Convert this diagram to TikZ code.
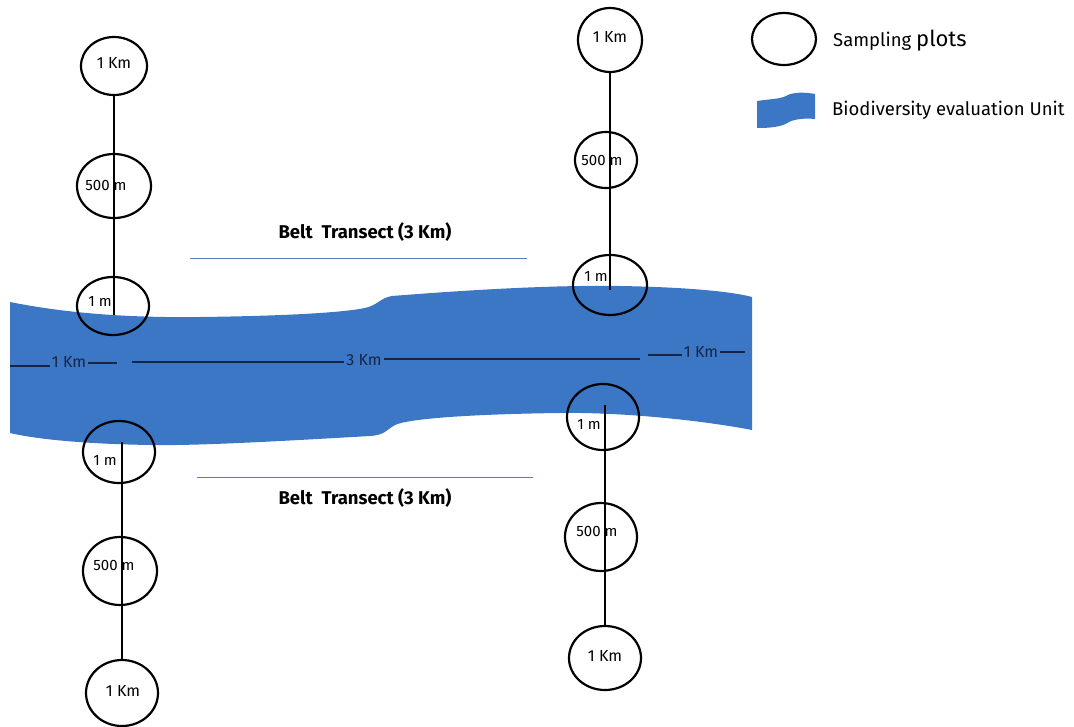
\documentclass[tikz,border=0pt]{standalone}
\usepackage{fontspec}
\setmainfont{Fira Sans}
\usetikzlibrary{shapes.geometric}
\definecolor{beu}{RGB}{59,119,196}
\definecolor{navy}{RGB}{22,36,72}
\definecolor{beltline}{RGB}{95,122,190}
\tikzset{
  plot/.style={ellipse, draw, line width=2.2pt, inner sep=0pt},
  kmplot/.style={plot, fill=white},
  lbl/.style={inner sep=0pt, font=\fontsize{15}{17}\selectfont},
  kmlbl/.style={lbl, font=\fontsize{16}{18}\selectfont\mdseries},
  midlbl/.style={inner sep=2pt, text=navy, font=\fontsize{16}{18}\selectfont},
  midline/.style={draw=navy, line width=1.6pt},
  transect/.style={line width=1.5pt},
  belt/.style={draw=beltline, line width=0.9pt},
  beltlbl/.style={inner sep=0pt, font=\fontsize{18.5}{20}\selectfont\bfseries},
  keylbl/.style={anchor=west, inner sep=0pt, font=\fontsize{18.5}{20}\selectfont},
}
\begin{document}
\begin{tikzpicture}[x=1pt, y=-1pt]
\useasboundingbox (0,0) rectangle (1074,726);
% biodiversity evaluation unit
\fill[beu] (10,302) .. controls (60,312) and (120,318) .. (200,317)
  .. controls (280,316) and (340,313) .. (365,308)
  .. controls (378,305) and (380,298) .. (392,296)
  .. controls (480,289) and (560,285) .. (620,286)
  .. controls (680,287) and (730,291) .. (752,297)
  -- (752,430) .. controls (700,420) and (620,412) .. (560,413)
  .. controls (480,414) and (410,418) .. (395,425)
  .. controls (386,430) and (385,435) .. (370,436)
  .. controls (300,440) and (200,446) .. (150,445)
  .. controls (90,444) and (40,440) .. (10,433) -- cycle;

% line through the unit
\coordinate (m0) at (10,366);
\coordinate (m1) at (117,363);
\coordinate (m2) at (132,362);
\coordinate (m3) at (640,359);
\coordinate (m4) at (648,355);
\coordinate (m5) at (745,352);
\node[midlbl] (mk0) at (69,362){1 Km};
\node[midlbl] (mk1) at (364,360){3 Km};
\node[midlbl] (mk2) at (701,352){1 Km};
\draw[midline](m0) -- (m0 -| mk0.west);
\draw[midline](m1 -| mk0.east) -- (m1);
\draw[midline](m2) -- (m2 -| mk1.west);
\draw[midline](m3 -| mk1.east) -- (m3);
\draw[midline](m4) -- (m4 -| mk2.west);
\draw[midline](m5 -| mk2.east) -- (m5);

% belt transects
\coordinate (bt0) at (190,258);
\coordinate (bt1) at (527,258);
\coordinate (bb0) at (197,477);
\coordinate (bb1) at (533,477);
\draw[belt](bt0) -- (bt1);
\draw[belt](bb0) -- (bb1);
\node[beltlbl] (btl) at (365,232){Belt\ \ Transect (3 Km)};
\node[beltlbl] (bbl) at (365,498){Belt\ \ Transect (3 Km)};

% left top
\coordinate (ltc) at (114,315);
\node[kmplot, minimum width=66, minimum height=58] (lt0) at (114,66){};
\node[plot, minimum width=74, minimum height=64] (lt1) at (114,186){};
\node[plot, minimum width=72, minimum height=58] (lt2) at (113,306){};
\draw[transect](lt0) -- (ltc);
\node[kmlbl] at (114,63){1 Km};
\node[lbl] at (106,185){500 m};
\node[lbl] at (100,301){1 m};

% right top
\coordinate (rtc) at (610,290);
\node[kmplot, minimum width=64, minimum height=64] (rt0) at (610,40){};
\node[plot, minimum width=62, minimum height=56] (rt1) at (606,160){};
\node[plot, minimum width=74, minimum height=60] (rt2) at (610,285){};
\draw[transect](rt0) -- (rtc);
\node[kmlbl] at (610,37){1 Km};
\node[lbl] at (602,160){500 m};
\node[lbl] at (596,276){1 m};

% left bottom
\coordinate (lbc) at (122,442);
\node[plot, minimum width=72, minimum height=62] (lb0) at (119,452){};
\node[plot, minimum width=74, minimum height=68] (lb1) at (120,571){};
\node[kmplot, minimum width=72, minimum height=66] (lb2) at (122,693){};
\draw[transect](lbc) -- (lb2);
\node[lbl] at (105,460){1 m};
\node[lbl] at (114,565){500 m};
\node[kmlbl] at (123,691){1 Km};

% right bottom
\coordinate (rbc) at (605,405);
\node[plot, minimum width=72, minimum height=66] (rb0) at (603,417){};
\node[plot, minimum width=72, minimum height=68] (rb1) at (601,537){};
\node[kmplot, minimum width=72, minimum height=64] (rb2) at (605,658){};
\draw[transect](rbc) -- (rb2);
\node[lbl] at (589,424){1 m};
\node[lbl] at (597,531){500 m};
\node[kmlbl] at (605,656){1 Km};

% key
\node[plot, minimum width=64, minimum height=52] (key0) at (784,39){};
\node[keylbl] (key0t) at (833,41){Sampling {\fontsize{22}{24}\selectfont plots}};
\fill[beu] (757,101) .. controls (770,99) and (780,99) .. (786,96)
  .. controls (792,92) and (805,92) .. (815,94) -- (815,119)
  .. controls (805,118) and (795,119) .. (789,122)
  .. controls (782,127) and (770,128) .. (757,128) -- cycle;
\node[keylbl] (key1t) at (832,110){Biodiversity evaluation Unit};
\end{tikzpicture}
\end{document}
